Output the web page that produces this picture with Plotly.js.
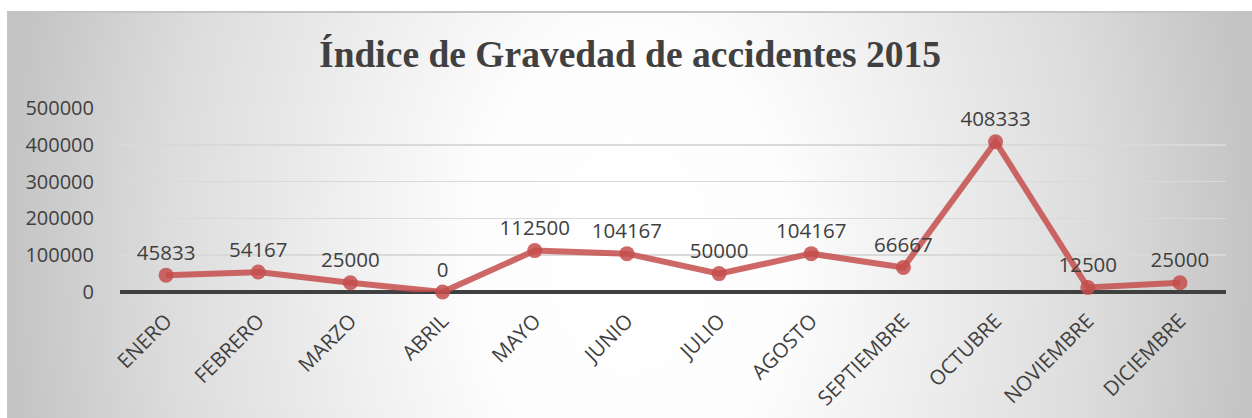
<!DOCTYPE html>
<html>
<head>
<meta charset="utf-8">
<script src="https://cdn.plot.ly/plotly-3.0.1.min.js"></script>
<style>
  html, body { margin: 0; padding: 0; background: #ffffff; width: 1252px; height: 418px; overflow: hidden; }
  #chart {
    position: absolute; left: 7px; top: 11px; width: 1245px; height: 407px;
    box-sizing: border-box; border-left: 1px solid #c4c4c4; border-top: 2px solid #c4c4c4;
    background: radial-gradient(ellipse 50% 220% at 50% 60%, #ffffff 0%, #fdfdfd 25%, #f0f0f0 45%, #dcdcdc 75%, #c4c4c4 100%);
  }
</style>
</head>
<body>
<div id="chart"></div>
<script>
const months = ["ENERO","FEBRERO","MARZO","ABRIL","MAYO","JUNIO","JULIO","AGOSTO","SEPTIEMBRE","OCTUBRE","NOVIEMBRE","DICIEMBRE"];
const values = [45833, 54167, 25000, 0, 112500, 104167, 50000, 104167, 66667, 408333, 12500, 25000];
const yTicks = [0, 100000, 200000, 300000, 400000, 500000];
const titleText = "Índice de Gravedad de accidentes 2015";

const trace = {
  x: months,
  y: values,
  type: "scatter",
  mode: "lines+markers+text",
  text: values.map(v => String(v)),
  textposition: "top center",
  textfont: { family: "Open Sans, sans-serif", size: 20.5, color: "#404040" },
  line: { color: "rgba(196,78,76,0.85)", width: 6 },
  marker: { color: "rgba(196,78,76,0.85)", size: 15 },
  cliponaxis: false,
  hoverinfo: "none"
};

const layout = {
  width: 1244, height: 405,
  margin: { l: 112, r: 26, t: 95, b: 126, pad: 0 },
  paper_bgcolor: "rgba(0,0,0,0)",
  plot_bgcolor: "rgba(0,0,0,0)",
  showlegend: false,
  font: { family: "Open Sans, sans-serif", color: "#404040", size: 20 },
  title: {
    text: "<b>" + titleText + "</b>",
    font: { family: "Liberation Serif, Times New Roman, serif", size: 37.5, color: "#404040" },
    x: 0.5, xref: "container", xanchor: "center",
    y: 0.9, yref: "container", yanchor: "middle"
  },
  xaxis: {
    type: "category",
    range: [-0.5, 11.5],
    tickangle: -45,
    tickfont: { size: 20.5, color: "#404040" },
    showgrid: false,
    showline: false,
    zeroline: false,
    ticks: "",
    ticklabelstandoff: 12,
    fixedrange: true
  },
  yaxis: {
    range: [0, 500000],
    tickvals: yTicks,
    ticktext: yTicks.map(v => String(v)),
    tickfont: { size: 20, color: "#404040" },
    showgrid: true,
    gridcolor: "#d9d9d9",
    gridwidth: 1.5,
    zeroline: true,
    zerolinecolor: "#404040",
    zerolinewidth: 3.5,
    showline: false,
    ticks: "",
    ticklabelstandoff: 25,
    fixedrange: true
  }
};

Plotly.newPlot("chart", [trace], layout, { displayModeBar: false, staticPlot: true });
</script>
</body>
</html>
